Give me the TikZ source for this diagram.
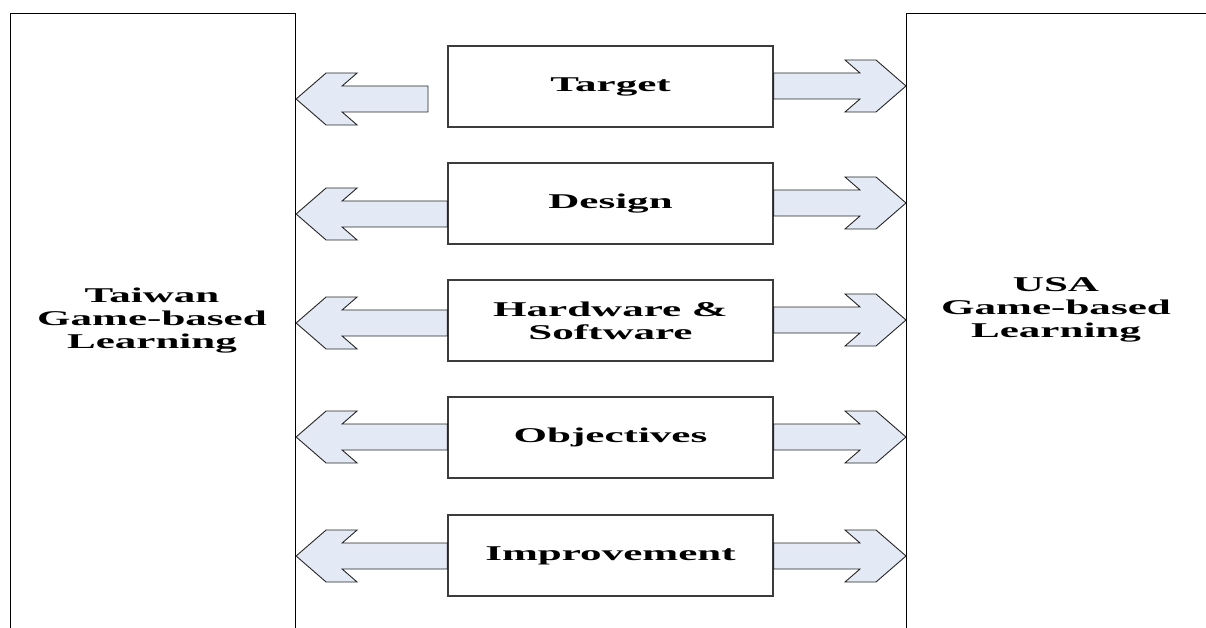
\documentclass[tikz,border=0pt]{standalone}
\usepackage{fontspec}
\setmainfont{Liberation Serif}[FakeStretch=2.05]
\usetikzlibrary{calc}

\definecolor{arrowfill}{RGB}{228,234,245}
\definecolor{boxline}{RGB}{60,60,60}

\tikzset{
  panel/.style={draw=black, line width=1.1pt, minimum width=285pt,
    minimum height=660pt, anchor=north west, inner sep=0pt},
  topic/.style={draw=boxline, line width=1.2pt, minimum width=325pt,
    minimum height=81pt, inner sep=0pt, align=center,
    font=\fontsize{21}{23}\selectfont\bfseries},
  sidelabel/.style={align=center, inner sep=0pt,
    font=\fontsize{21}{23}\selectfont\bfseries},
  blockarrow/.style={draw=black!85, fill=arrowfill, line width=0.9pt,
    line join=miter},
}

% Broad block arrow with a chevron head, from #1 (tail) to #2 (tip);
% the shaft is drawn at the height of the tip.
\newcommand\blockarrow[2]{%
  \draw[blockarrow] let \p1=#1, \p2=#2, \n1={sign(\x2-\x1)} in
    (\x1,{\y2+13pt}) -- ({\x2-46pt*\n1},{\y2+13pt})
    -- ({\x2-61pt*\n1},{\y2+26pt}) -- ({\x2-30pt*\n1},{\y2+26pt})
    -- (\x2,\y2)
    -- ({\x2-30pt*\n1},{\y2-26pt}) -- ({\x2-61pt*\n1},{\y2-26pt})
    -- ({\x2-46pt*\n1},{\y2-13pt}) -- (\x1,{\y2-13pt}) -- cycle;%
}

\begin{document}
\begin{tikzpicture}[x=1pt, y=-1pt]
  \useasboundingbox (0,0) rectangle (1206,628);
  \clip (0,0) rectangle (1206,628);

  % the two countries
  \node[panel] (taiwan) at (10,13) {};
  \node[panel, minimum width=330pt] (usa) at (906,13) {};
  \node[sidelabel] (taiwanlabel) at (152,321) {Taiwan\\Game-based\\Learning};
  \node[sidelabel] (usalabel) at (1056,310) {USA\\Game-based\\Learning};

  % aspects compared
  \node[topic] (target)      at (610.5,86.5)  {Target};
  \node[topic] (design)      at (610.5,203.5) {Design};
  \node[topic] (hardware)    at (610.5,320.5) {Hardware \&\\Software};
  \node[topic] (objectives)  at (610.5,437.5) {Objectives};
  \node[topic] (improvement) at (610.5,555.5) {Improvement};

  \coordinate (targetstub) at (428,99);

  % arrows towards Taiwan
  \blockarrow{(targetstub)}{(taiwan.east |- targetstub)}
  \blockarrow{(design.west |- 0,214)}{(taiwan.east |- 0,214)}
  \blockarrow{(hardware.west |- 0,323)}{(taiwan.east |- 0,323)}
  \blockarrow{(objectives.west |- 0,437)}{(taiwan.east |- 0,437)}
  \blockarrow{(improvement.west |- 0,556)}{(taiwan.east |- 0,556)}

  % arrows towards the USA
  \blockarrow{(target.east |- 0,86)}{(usa.west |- 0,86)}
  \blockarrow{(design.east |- 0,203)}{(usa.west |- 0,203)}
  \blockarrow{(hardware.east |- 0,320)}{(usa.west |- 0,320)}
  \blockarrow{(objectives.east |- 0,437)}{(usa.west |- 0,437)}
  \blockarrow{(improvement.east |- 0,556)}{(usa.west |- 0,556)}
\end{tikzpicture}
\end{document}
